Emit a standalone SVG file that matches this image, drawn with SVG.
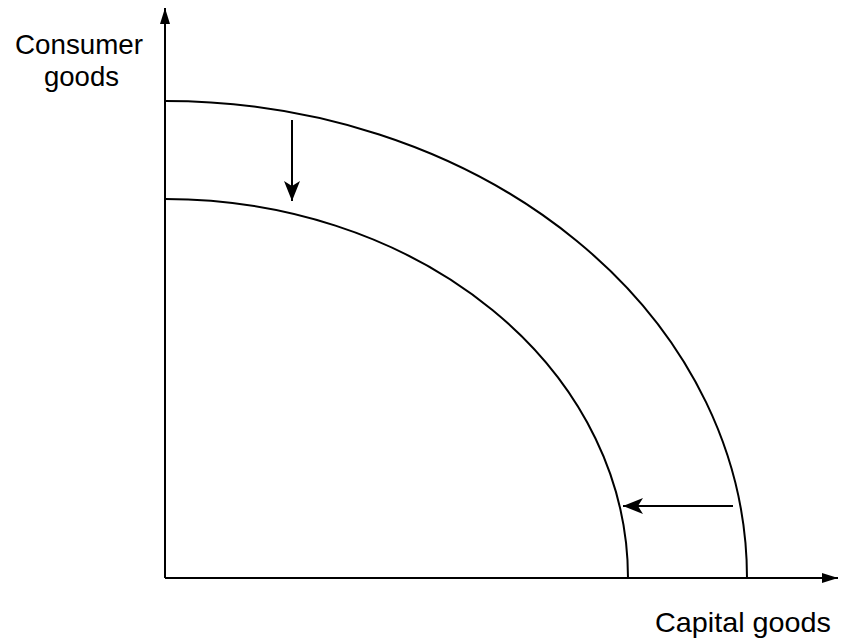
<svg xmlns="http://www.w3.org/2000/svg" width="842" height="642" viewBox="0 0 842 642">
<defs>
<style>
.ln{stroke:#000;stroke-width:2;fill:none}
.t{font-family:"Liberation Sans",Arial,sans-serif;font-size:28px;fill:#000}
</style>
<marker id="ah" viewBox="0 0 20 16" refX="20" refY="8" markerWidth="20" markerHeight="16" markerUnits="userSpaceOnUse" orient="auto"><path d="M0,0 L20,8 L0,16 L5,8 z" fill="#000"/></marker>
<marker id="ax" viewBox="0 0 16 10" refX="16" refY="5" markerWidth="16" markerHeight="10" markerUnits="userSpaceOnUse" orient="auto"><path d="M0,0 L16,5 L0,10 z" fill="#000"/></marker>
</defs>
<rect width="842" height="642" fill="#fff"/>
<g id="axes">
<path class="ln" d="M165,578 L165,8" marker-end="url(#ax)"/>
<path class="ln" d="M165,578 L838,578" marker-end="url(#ax)"/>
</g>
<g id="outer-ppf"><path class="ln" d="M165,101 A582,477 0 0 1 747,578"/></g>
<g id="inner-ppf"><path class="ln" d="M165,199 A463,379 0 0 1 628,578"/></g>
<g id="connectors">
<path class="ln" d="M292,120 L292,201" marker-end="url(#ah)"/>
<path class="ln" d="M733,506 L623,506" marker-end="url(#ah)"/>
</g>
<g id="labels">
<text class="t" x="15" y="54" textLength="128" lengthAdjust="spacingAndGlyphs">Consumer</text>
<text class="t" x="44" y="86" textLength="75" lengthAdjust="spacingAndGlyphs">goods</text>
<text class="t" x="655" y="632" textLength="176" lengthAdjust="spacingAndGlyphs">Capital goods</text>
</g>
</svg>
